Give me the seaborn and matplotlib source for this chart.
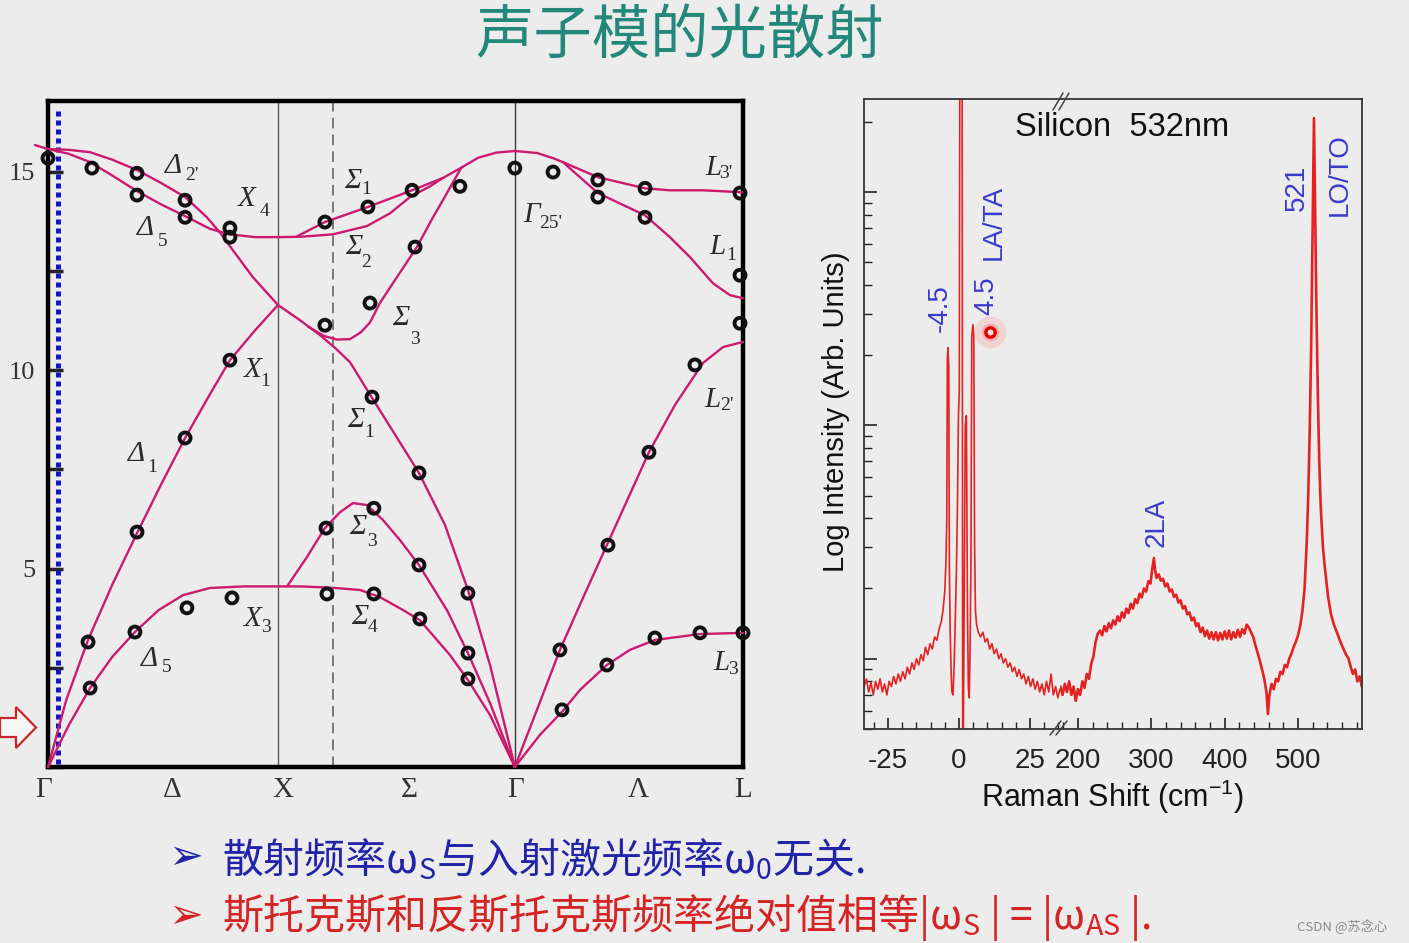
import numpy as np
import pandas as pd
import matplotlib
matplotlib.use("Agg")
import matplotlib.pyplot as plt
from matplotlib.lines import Line2D
from matplotlib.patches import Polygon
from matplotlib.ticker import MultipleLocator, LogLocator, NullFormatter
import seaborn as sns

# ---------------- data: Si phonon dispersion (path coordinate, THz) ----------------
Q_X, Q_K, Q_G2, Q_L = 1.0, 1.239, 2.03, 3.022

ta_q = [0, 0.09, 0.183, 0.28, 0.378, 0.48, 0.587, 0.704, 0.85, 1.0, 1.1, 1.226, 1.357, 1.443, 1.53, 1.617, 1.748, 1.826, 1.922, 2.03]
ta_f = [0, 1.05, 1.99, 2.78, 3.40, 3.95, 4.33, 4.51, 4.55, 4.55, 4.55, 4.52, 4.46, 4.28, 4.0, 3.70, 2.82, 2.19, 1.31, 0]

la_q = [0, 0.08, 0.174, 0.28, 0.387, 0.49, 0.596, 0.70, 0.791, 0.90, 1.0]
la_f = [0, 1.7, 3.2, 4.6, 5.89, 7.1, 8.29, 9.35, 10.25, 11.0, 11.64]

lo_q = [-0.057, 0, 0.09, 0.183, 0.28, 0.387, 0.49, 0.596, 0.691, 0.75, 0.804, 0.891, 1.0, 1.09, 1.183, 1.25, 1.313, 1.409, 1.517, 1.613, 1.726, 1.826, 1.922, 2.03]
lo_f = [15.67, 15.57, 15.55, 15.49, 15.3, 15.04, 14.72, 14.36, 13.85, 13.45, 13.02, 12.34, 11.64, 11.28, 10.88, 10.55, 10.2, 9.3, 8.3, 7.41, 6.1, 4.46, 2.57, 0]

to_q = [0, 0.09, 0.183, 0.28, 0.387, 0.49, 0.596, 0.704, 0.791, 0.9, 1.0]
to_f = [15.57, 15.45, 15.24, 14.9, 14.51, 14.18, 13.88, 13.56, 13.42, 13.35, 13.35]

s2_q = [1.0, 1.1, 1.239, 1.387, 1.487, 1.574, 1.661, 1.717, 1.8, 1.87, 1.95, 2.03]
s2_f = [13.35, 13.36, 13.42, 13.63, 13.95, 14.36, 14.63, 14.84, 15.11, 15.35, 15.48, 15.52]

s1u_q = [1.083, 1.204, 1.391, 1.583, 1.717]
s1u_f = [13.37, 13.73, 14.11, 14.53, 14.84]

s3u_q = [1.13, 1.2, 1.257, 1.313, 1.36, 1.4, 1.443, 1.517, 1.604, 1.674, 1.717, 1.791, 1.8]
s3u_f = [11.10, 10.86, 10.77, 10.78, 10.95, 11.2, 11.69, 12.34, 13.10, 13.85, 14.28, 15.04, 15.11]

s3l_q = [1.043, 1.126, 1.204, 1.27, 1.326, 1.387, 1.457, 1.53, 1.613, 1.735, 1.826, 1.922, 2.03]
s3l_f = [4.58, 5.29, 6.02, 6.42, 6.65, 6.60, 6.22, 5.72, 5.09, 3.95, 2.87, 1.61, 0]

l3p_q = [2.03, 2.126, 2.196, 2.239, 2.391, 2.596, 2.704, 2.848, 3.022]
l3p_f = [15.52, 15.47, 15.34, 15.24, 14.86, 14.58, 14.53, 14.53, 14.48]

l1_q = [2.239, 2.391, 2.596, 2.704, 2.791, 2.891, 2.965, 3.022]
l1_f = [15.24, 14.46, 13.90, 13.35, 12.85, 12.19, 11.89, 11.81]

l2p_q = [2.03, 2.13, 2.226, 2.33, 2.43, 2.613, 2.726, 2.848, 2.935, 3.022]
l2p_f = [0, 1.5, 2.95, 4.31, 5.59, 7.93, 9.12, 10.18, 10.58, 10.71]

l3_q = [2.03, 2.139, 2.235, 2.313, 2.43, 2.53, 2.639, 2.835, 3.022]
l3_f = [0, 0.81, 1.39, 1.94, 2.57, 2.95, 3.2, 3.35, 3.38]

# measured points (open circles)
mark_q = [0, 0.191, 0.387, 0.387, 0.596, 0.596, 0.791, 0.791, 0.791, 0.596, 0.387, 0.174, 0.183, 0.378, 0.604, 0.80,
          1.204, 1.391, 1.583, 1.791, 1.596, 1.40, 1.204, 1.409, 1.613, 1.826, 1.209, 1.417, 1.613, 1.826, 1.213, 1.417, 1.617, 1.826,
          2.03, 2.196, 2.391, 2.391, 2.596, 2.596, 3.009, 3.009, 3.009, 2.813, 2.613, 2.435, 2.226, 2.235, 2.430, 2.639, 2.835, 3.022]
mark_f = [15.34, 15.09, 14.96, 14.41, 14.28, 13.85, 13.58, 13.35, 10.25, 8.29, 5.92, 3.15, 1.99, 3.40, 4.01, 4.26,
          13.73, 14.11, 14.53, 14.63, 13.10, 11.69, 11.13, 9.32, 7.41, 4.38, 6.02, 6.52, 5.09, 2.87, 4.36, 4.36, 3.73, 2.22,
          15.09, 14.99, 14.79, 14.36, 14.58, 13.85, 14.46, 12.39, 11.18, 10.13, 7.93, 5.59, 2.95, 1.44, 2.57, 3.25, 3.38, 3.38]

kpt_labels = ["Γ", "Δ", "X", "Σ", "Γ", "Λ", "L"]
kpt_pos = [-0.017, 0.539, 1.02, 1.57, 2.035, 2.565, 3.022]
freq_ticks = [0, 2.5, 5, 7.5, 10, 12.5, 15]
freq_ticklabels = ["", "", "5", "", "10", "", "15"]

# ---------------- data: Raman spectrum of Si (log intensity, arb. units) ----------------
shift_low = [-33.4, -32.6, -31.8, -31.0, -30.2, -29.4, -28.6, -27.8, -27.0, -26.2, -25.4, -24.6, -23.8, -23.0, -22.2,
             -21.4, -20.6, -19.8, -19.0, -18.2, -17.4, -16.6, -15.8, -15.0, -14.2, -13.4, -12.6, -11.8, -11.0, -10.2,
             -9.4, -8.6, -7.8, -7.0, -6.2, -5.6, -5.0, -4.6, -4.3, -4.1, -3.9, -3.6, -3.4, -3.1, -2.8, -2.5, -2.1,
             -1.7, -1.3, -0.9, -0.5, -0.2, 0.1, 0.3, 1.1, 1.3, 1.5, 1.8, 2.2, 2.6, 3.0, 3.3, 3.6, 3.9, 4.2, 4.5, 4.9,
             5.2, 5.5, 5.8, 6.2, 6.8, 7.6, 8.4, 9.2, 10.0, 10.8, 11.6, 12.4, 13.2, 14.0, 14.8, 15.6, 16.4, 17.2, 18.0,
             18.8, 19.6, 20.4, 21.2, 22.0, 22.8, 23.6, 24.4, 25.2, 26.0, 26.8, 27.6, 28.4, 29.2, 30.0, 30.8, 31.6,
             32.4, 33.2, 34.0, 34.8, 35.5]
int_low = [0.76, 0.82, 0.72, 0.79, 0.70, 0.80, 0.74, 0.82, 0.72, 0.78, 0.70, 0.80, 0.76, 0.84, 0.78,
           0.86, 0.80, 0.88, 0.82, 0.92, 0.86, 0.96, 0.90, 1.00, 0.94, 1.04, 0.98, 1.12, 1.04, 1.16,
           1.10, 1.24, 1.20, 1.34, 1.45, 1.62, 1.95, 2.6, 4.0, 19.0, 21.5, 18.0, 2.5, 1.3, 0.9, 0.72, 0.70,
           0.95, 1.5, 2.4, 5.0, 11.0, 14.0, 400, 400, 0.40, 0.45, 1.6, 10.0, 11.0, 1.5, 0.75, 0.68, 1.1, 2.5, 24.0, 27.0,
           24.0, 3.0, 1.6, 1.40, 1.30, 1.24, 1.30, 1.18, 1.22, 1.10, 1.16, 1.05, 1.10, 1.00, 1.05, 0.96, 1.00, 0.92, 0.96,
           0.88, 0.92, 0.84, 0.90, 0.82, 0.86, 0.78, 0.84, 0.76, 0.82, 0.74, 0.80, 0.72, 0.78, 0.70, 0.80, 0.72,
           0.86, 0.70, 0.76, 0.68, 0.74]

shift_high = [176, 179, 182, 185, 188, 191, 194, 197, 200, 203, 206, 209, 212, 215, 218, 221, 224, 227, 230, 233, 236,
              239, 242, 245, 248, 251, 254, 257, 260, 263, 266, 269, 272, 275, 278, 281, 284, 287, 290, 293, 296, 299,
              301, 303.6, 305, 307, 310, 313, 316, 319, 322, 325, 328, 331, 334, 337, 340, 343, 346, 349, 352, 355,
              358, 361, 364, 367, 370, 373, 376, 379, 382, 385, 388, 391, 394, 397, 400, 403, 406, 409, 412, 415,
              418, 421, 424, 427, 430, 433, 436, 439, 442, 445, 448, 451, 454, 457, 459, 461, 464, 467, 470, 473,
              476, 479, 482, 485, 488, 491, 494, 497, 500, 503, 506, 509, 512, 514, 516, 518, 520, 521.8, 523.5, 525,
              527, 529, 531, 534, 537, 541, 545, 549, 553, 557, 561, 565, 569, 572, 575, 578, 581, 584, 587]
int_high = [0.76, 0.70, 0.78, 0.72, 0.80, 0.70, 0.76, 0.66, 0.74, 0.70, 0.80, 0.75, 0.86, 0.82, 0.95, 1.02, 1.18, 1.28,
            1.32, 1.26, 1.38, 1.31, 1.42, 1.35, 1.46, 1.40, 1.52, 1.45, 1.58, 1.50, 1.64, 1.57, 1.72, 1.64, 1.80, 1.73,
            1.90, 1.83, 2.00, 1.94, 2.15, 2.10, 2.40, 2.70, 2.42, 2.22, 2.30, 2.16, 2.20, 2.04, 2.10, 1.94, 1.98, 1.84,
            1.88, 1.74, 1.78, 1.64, 1.68, 1.55, 1.58, 1.46, 1.50, 1.38, 1.42, 1.30, 1.36, 1.25, 1.32, 1.22, 1.30, 1.21,
            1.30, 1.20, 1.29, 1.21, 1.31, 1.22, 1.32, 1.21, 1.30, 1.23, 1.33, 1.24, 1.34, 1.28, 1.40, 1.36, 1.30, 1.24,
            1.14, 1.06, 0.98, 0.90, 0.82, 0.72, 0.58, 0.70, 0.78, 0.74, 0.82, 0.80, 0.88, 0.86, 0.94, 0.92, 1.00, 1.05,
            1.12, 1.18, 1.26, 1.38, 1.60, 2.00, 3.2, 5.0, 9.5, 22.0, 70.0, 207.0, 80.0, 34.0, 14.0, 7.0, 4.5, 3.0,
            2.4, 1.85, 1.55, 1.40, 1.30, 1.20, 1.12, 1.05, 1.00, 0.92, 0.86, 0.90, 0.80, 0.84, 0.76]

pointer_shift = [10.9]
pointer_int = [25.0]

# ---------------- style ----------------
sns.set_style("white")
plt.rcParams["font.family"] = ["Liberation Sans", "DejaVu Sans"]
plt.rcParams["mathtext.default"] = "regular"
plt.rcParams["axes.unicode_minus"] = False

W, H = 1409, 943
BG = "#ececec"
CURVE = "#cc1a6e"
SPEC = "#e42222"
ANNO = "#3b3bcc"


def fx(px):
    return px / W


def fy(py):
    return 1 - py / H


fig = plt.figure(figsize=(W / 100, H / 100), dpi=100, facecolor=BG)

# ---------------- title ----------------
fig.text(fx(680), fy(36), "声子模的光散射", fontsize=42, color="#23887a",
         family=["Noto Sans CJK SC"], ha="center", va="center")

# ---------------- left: dispersion ----------------
ax = fig.add_axes([fx(48), fy(767), (743 - 48) / W, (767 - 101) / H])
ax.set_facecolor(BG)

branches = {
    "TA": (ta_q, ta_f), "LA": (la_q, la_f), "LO": (lo_q, lo_f), "TO": (to_q, to_f),
    "S2": (s2_q, s2_f), "S1u": (s1u_q, s1u_f), "S3u": (s3u_q, s3u_f), "S3l": (s3l_q, s3l_f),
    "L3p": (l3p_q, l3p_f), "L1": (l1_q, l1_f), "L2p": (l2p_q, l2p_f), "L3": (l3_q, l3_f),
}
disp_df = pd.concat([pd.DataFrame({"q": q, "freq": f, "branch": name}) for name, (q, f) in branches.items()],
                    ignore_index=True)
sns.lineplot(data=disp_df, x="q", y="freq", units="branch", estimator=None, sort=False,
             color=CURVE, lw=1.7, ax=ax, legend=False, zorder=3)
for ln in ax.lines:
    ln.set_clip_on(False)

ax.axvline(Q_X, color="#5a5a5a", lw=1.0, zorder=1)
ax.axvline(Q_K, color="#5a5a5a", lw=1.1, ls=(0, (7, 4)), zorder=1)
ax.axvline(Q_G2, color="#3a3a3a", lw=1.0, zorder=1)
ax.axvline(0.043, ymin=0.004, ymax=0.99, color="#1414c8", lw=3.6, ls=(0, (1, 0.8)), zorder=2)

sns.scatterplot(x=mark_q, y=mark_f, ax=ax, s=62, facecolors="none", edgecolor="#111111",
                linewidth=2.8, zorder=5, clip_on=False, legend=False)

ax.set_xlim(0, Q_L)
ax.set_ylim(0, 16.78)
ax.set_yticks(freq_ticks)
ax.set_yticklabels(freq_ticklabels, fontfamily="Liberation Serif", fontsize=19, color="#333333")
ax.tick_params(axis="y", left=True, direction="in", length=11, width=2.5, pad=9)
ax.set_xticks([])
ax.set_xlabel("")
ax.set_ylabel("")
for s in ax.spines.values():
    s.set_visible(True)
    s.set_linewidth(3.2)
    s.set_color("black")

for lab, q in zip(kpt_labels, kpt_pos):
    ax.text(q, -0.035, lab, transform=ax.get_xaxis_transform(), ha="center", va="center",
            fontfamily="Liberation Serif", fontsize=21, color="#333333", clip_on=False)

sym_labels = [
    ("Δ", "2'", (174, 166), (192, 175)),
    ("X", "4", (247, 199), (264, 212)),
    ("Δ", "5", (146, 228), (163, 241)),
    ("Σ", "1", (353, 181), (366, 190)),
    ("Σ", "2", (354, 247), (366, 263)),
    ("Σ", "3", (401, 318), (415, 339)),
    ("X", "1", (253, 370), (265, 381)),
    ("Σ", "1", (356, 420), (369, 433)),
    ("Γ", "25'", (532, 215), (551, 224)),
    ("L", "3'", (713, 168), (726, 174)),
    ("L", "1", (717, 247), (731, 255)),
    ("L", "2'", (712, 400), (727, 406)),
    ("Δ", "1", (137, 454), (152, 468)),
    ("Σ", "3", (358, 527), (372, 541)),
    ("X", "3", (253, 619), (266, 628)),
    ("Σ", "4", (360, 617), (373, 628)),
    ("Δ", "5", (150, 659), (167, 668)),
    ("L", "3", (721, 663), (733, 670)),
]
for main, sub, pm, ps in sym_labels:
    fig.text(fx(pm[0]), fy(pm[1]), main, fontfamily="Liberation Serif", fontstyle="italic",
             fontsize=21, ha="center", va="center", color="#2a2a2a")
    fig.text(fx(ps[0]), fy(ps[1]), sub, fontfamily="Liberation Serif", fontsize=14,
             ha="center", va="center", color="#2a2a2a")

# hollow red arrow at the left margin
arrow_px = [(0, 718), (16, 718), (16, 707), (36, 727.5), (16, 748), (16, 737), (0, 737)]
fig.add_artist(Polygon([(fx(x), fy(y)) for x, y in arrow_px], closed=True, transform=fig.transFigure,
                       facecolor="#f6f6f6", edgecolor="#c8262a", lw=1.6))

# ---------------- right: Raman spectrum (broken x axis) ----------------
bottom, height = fy(729), (729 - 99) / H
axl = fig.add_axes([fx(864), bottom, (1060 - 864) / W, height])
axr = fig.add_axes([fx(1060), bottom, (1362 - 1060) / W, height])
for a in (axl, axr):
    a.set_facecolor(BG)

sns.lineplot(x=shift_low, y=int_low, ax=axl, sort=False, estimator=None, color=SPEC, lw=1.2)
sns.lineplot(x=shift_high, y=int_high, ax=axr, sort=False, estimator=None, color=SPEC, lw=1.9)

for a in (axl, axr):
    a.set_yscale("log")
    a.set_ylim(0.5, 250)
    a.set_xlabel("")
    a.set_ylabel("")
    for s in a.spines.values():
        s.set_visible(True)
        s.set_linewidth(1.3)
        s.set_color("#333333")
axl.set_xlim(-33.45, 35.56)
axr.set_xlim(175.5, 587.3)
axl.spines["right"].set_visible(False)
axr.spines["left"].set_visible(False)

axl.set_xticks([-25, 0, 25])
axl.set_xticklabels(["-25", "0", "25"])
axl.xaxis.set_minor_locator(MultipleLocator(5))
axr.set_xticks([200, 300, 400, 500])
axr.set_xticklabels(["200", "300", "400", "500"])
axr.xaxis.set_minor_locator(MultipleLocator(20))
for a in (axl, axr):
    a.tick_params(axis="x", which="major", bottom=True, direction="in", length=8, width=1.2,
                  labelsize=20, pad=14, colors="#222222")
    a.tick_params(axis="x", which="minor", bottom=True, direction="in", length=5, width=1.0, colors="#222222")

axl.yaxis.set_major_locator(LogLocator(base=10, numticks=10))
axl.yaxis.set_minor_locator(LogLocator(base=10, subs=np.arange(2, 10), numticks=20))
axl.yaxis.set_major_formatter(NullFormatter())
axl.yaxis.set_minor_formatter(NullFormatter())
axl.tick_params(axis="y", which="major", left=True, direction="in", length=9, width=1.2, colors="#222222")
axl.tick_params(axis="y", which="minor", left=True, direction="in", length=6, width=1.0, colors="#222222")
axr.tick_params(axis="y", which="both", left=False, right=False, labelleft=False)

# break marks
for (x0, y0, x1, y1) in [(1053, 110, 1063, 93), (1059, 110, 1069, 93), (1050, 735, 1061, 721), (1056, 735, 1067, 721)]:
    fig.add_artist(Line2D([fx(x0), fx(x1)], [fy(y0), fy(y1)], color="#444444", lw=1.1))

# laser pointer spot
axl.scatter(pointer_shift, pointer_int, s=520, color="#ff8a8a", alpha=0.25, lw=0, zorder=6)
axl.scatter(pointer_shift, pointer_int, s=160, color="#ff6a6a", alpha=0.35, lw=0, zorder=6)
axl.scatter(pointer_shift, pointer_int, s=45, facecolor="#ffe0e0", edgecolor="#e00000", lw=2.4, zorder=7)

# annotations
fig.text(fx(1122), fy(128), "Silicon  532nm", fontsize=23.5, color="#111111", ha="center", va="center")
for txt, (px, py) in [("-4.5", (940, 308)), ("4.5", (986, 296)), ("LA/TA", (994, 222)),
                      ("2LA", (1157, 522)), ("521", (1297, 188)), ("LO/TO", (1340, 175))]:
    fig.text(fx(px), fy(py), txt, fontsize=20, color=ANNO, rotation=90, ha="center", va="center")
fig.text(fx(836), fy(412), "Log Intensity (Arb. Units)", fontsize=21, color="#111111",
         rotation=90, ha="center", va="center")
fig.text(fx(1112), fy(797), "Raman Shift (cm$^{-1}$)", fontsize=22, color="#111111",
         ha="center", va="center")

# ---------------- bottom bullet lines ----------------
fig.text(fx(168), fy(857), "➢", fontsize=30, fontweight="bold", color="#2323a8", family=["DejaVu Sans"],
         ha="left", va="center")
fig.text(fx(168), fy(916), "➢", fontsize=30, fontweight="bold", color="#d42424", family=["DejaVu Sans"],
         ha="left", va="center")
fig.text(fx(222), fy(872), "散射频率$\\omega_S$与入射激光频率$\\omega_0$无关.", fontsize=29.5,
         color="#2323a8", family=["Noto Sans CJK SC"], ha="left", va="baseline")
fig.text(fx(222), fy(929), "斯托克斯和反斯托克斯频率绝对值相等|$\\omega_S$ | = |$\\omega_{AS}$ |.", fontsize=29.5,
         color="#d42424", family=["Noto Sans CJK SC"], ha="left", va="baseline")

fig.text(fx(1342), fy(927), "CSDN @苏念心", fontsize=9.5, color="#8a8a8a",
         family=["Noto Sans CJK SC", "DejaVu Sans"], ha="center", va="center")

fig.savefig("out.png", dpi=100, facecolor=BG)
